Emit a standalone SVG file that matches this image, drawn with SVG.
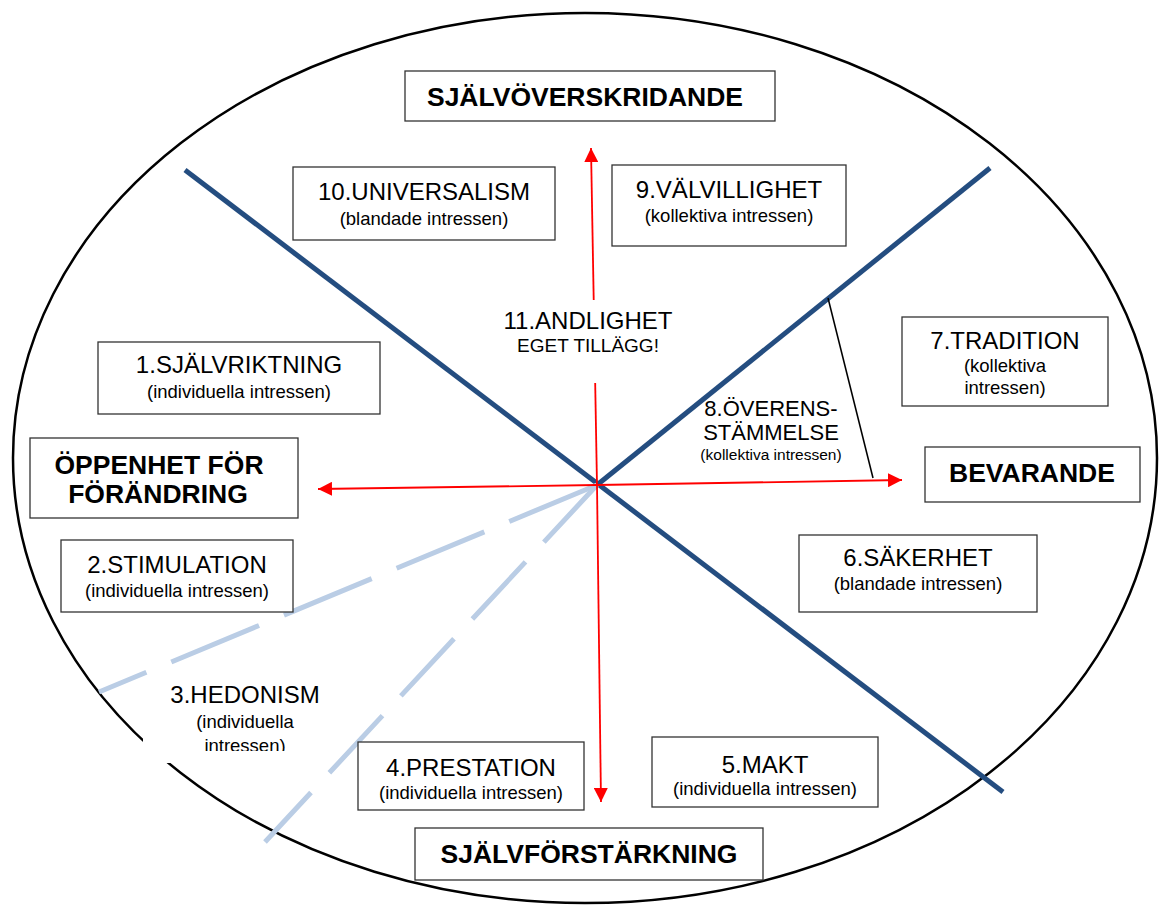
<svg xmlns="http://www.w3.org/2000/svg" width="1160" height="908" viewBox="0 0 1160 908">
<style>
.box{fill:#fff;stroke:#333;stroke-width:1.3}
.t{font-family:"Liberation Sans",Arial,sans-serif;fill:#000;text-anchor:middle}
.h{font-size:24px}
.s{font-size:18.5px}
.b{font-size:26.5px;font-weight:bold}
.axis{stroke:#244d80;stroke-width:5;fill:none}
.red{stroke:#f00;stroke-width:1.8;fill:none}
.dash{stroke:#bacde5;stroke-width:5;fill:none}
</style>
<defs>
<marker id="ah" viewBox="0 0 10 10" refX="10" refY="5" markerWidth="14" markerHeight="14" markerUnits="userSpaceOnUse" orient="auto">
<path d="M0,0 L10,5 L0,10 z" fill="#f00"/>
</marker>
</defs>
<rect width="1160" height="908" fill="#fff"/>
<ellipse id="circle" cx="585" cy="458" rx="572" ry="445" fill="none" stroke="#000" stroke-width="2.5"/>
<g id="connectors">
<line class="axis" x1="185" y1="170" x2="1003" y2="792"/>
<line class="axis" x1="990" y1="168" x2="597" y2="485"/>
<line class="dash" x1="597" y1="485" x2="99" y2="692" stroke-dasharray="95 27"/>
<line class="dash" x1="597" y1="485" x2="265" y2="842" stroke-dasharray="78 27"/>
<line x1="828" y1="298" x2="873" y2="478" stroke="#000" stroke-width="1.5"/>
<line class="red" x1="597" y1="485" x2="591" y2="148" marker-end="url(#ah)"/>
<line class="red" x1="597" y1="485" x2="601" y2="802" marker-end="url(#ah)"/>
<line class="red" x1="597" y1="485" x2="318" y2="489" marker-end="url(#ah)"/>
<line class="red" x1="597" y1="485" x2="902" y2="480" marker-end="url(#ah)"/>
</g>
<g id="n-sjalvoverskridande">
<rect class="box" x="405" y="71" width="370" height="50"/>
<text class="t b" x="585" y="106">SJÄLVÖVERSKRIDANDE</text>
</g>
<g id="n10">
<rect class="box" x="293" y="167" width="262" height="73"/>
<text class="t h" x="424" y="200">10.UNIVERSALISM</text>
<text class="t s" x="424" y="225">(blandade intressen)</text>
</g>
<g id="n9">
<rect class="box" x="612" y="165" width="234" height="81"/>
<text class="t h" x="729" y="198">9.VÄLVILLIGHET</text>
<text class="t s" x="729" y="222">(kollektiva intressen)</text>
</g>
<g id="n11">
<rect x="495" y="300" width="190" height="83" fill="#fff"/>
<text class="t h" x="588" y="329">11.ANDLIGHET</text>
<text class="t" x="588" y="352" font-size="19">EGET TILLÄGG!</text>
</g>
<g id="n1">
<rect class="box" x="98" y="342" width="282" height="72"/>
<text class="t h" x="239" y="373">1.SJÄLVRIKTNING</text>
<text class="t s" x="239" y="398">(individuella intressen)</text>
</g>
<g id="n7">
<rect class="box" x="902" y="317" width="206" height="89"/>
<text class="t h" x="1005" y="349">7.TRADITION</text>
<text class="t s" x="1005" y="372">(kollektiva</text>
<text class="t s" x="1005" y="394">intressen)</text>
</g>
<g id="n8">
<text class="t" x="771" y="416" font-size="22">8.ÖVERENS-</text>
<text class="t" x="771" y="440" font-size="22">STÄMMELSE</text>
<text class="t" x="771" y="460" font-size="15.5">(kollektiva intressen)</text>
</g>
<g id="n-oppenhet">
<rect class="box" x="30" y="438" width="268" height="80"/>
<text class="t b" x="159" y="474" font-size="27.5">ÖPPENHET FÖR</text>
<text class="t b" x="158" y="503" font-size="27.5">FÖRÄNDRING</text>
</g>
<g id="n-bevarande">
<rect class="box" x="925" y="447" width="215" height="55"/>
<text class="t b" x="1032" y="482">BEVARANDE</text>
</g>
<g id="n2">
<rect class="box" x="61" y="540" width="232" height="72"/>
<text class="t h" x="177" y="573">2.STIMULATION</text>
<text class="t s" x="177" y="597">(individuella intressen)</text>
</g>
<g id="n6">
<rect class="box" x="799" y="535" width="238" height="77"/>
<text class="t h" x="918" y="566">6.SÄKERHET</text>
<text class="t s" x="918" y="590">(blandade intressen)</text>
</g>
<g id="n3">
<rect x="143" y="682" width="190" height="81" fill="#fff"/>
<text class="t h" x="245" y="703">3.HEDONISM</text>
<text class="t s" x="245" y="728">(individuella</text>
<text class="t s" x="245" y="752">intressen)</text>
<rect x="143" y="751" width="190" height="12" fill="#fff"/>
</g>
<g id="n4">
<rect class="box" x="358" y="742" width="226" height="68"/>
<text class="t h" x="471" y="776">4.PRESTATION</text>
<text class="t s" x="471" y="799">(individuella intressen)</text>
</g>
<g id="n5">
<rect class="box" x="652" y="737" width="226" height="70"/>
<text class="t h" x="765" y="773">5.MAKT</text>
<text class="t s" x="765" y="795">(individuella intressen)</text>
</g>
<g id="n-sjalvforstarkning">
<rect class="box" x="415" y="828" width="348" height="52"/>
<text class="t b" x="589" y="863">SJÄLVFÖRSTÄRKNING</text>
</g>
</svg>
